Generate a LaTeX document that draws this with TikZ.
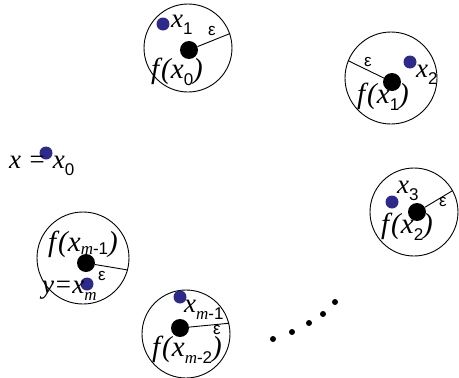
\documentclass[tikz,border=0pt]{standalone}
\usepackage{fontspec}
\setmainfont{Liberation Serif}
\newfontfamily\serf{Liberation Serif}
\newfontfamily\subf{Liberation Sans}
\definecolor{dotblue}{RGB}{46,42,140}
\newcommand\lowsub[1]{\raisebox{-7pt}{\fontsize{17}{17}\selectfont #1}}
\newcommand\snum[1]{{\subf\upshape #1}}
\newcommand\fk{f\kern2pt}
\begin{document}
\begin{tikzpicture}[x=1pt,y=-1pt,
 ring/.style={circle, draw, line width=0.9pt, inner sep=0},
 bdot/.style={circle, fill=black, inner sep=0, minimum size=18pt},
 udot/.style={circle, fill=dotblue, inner sep=0, minimum size=13pt},
 edot/.style={circle, fill=black, inner sep=0, minimum size=6pt},
 rad/.style={line width=0.9pt},
 flab/.style={inner sep=0, anchor=base west, font=\serf\fontsize{29}{29}\selectfont\itshape},
 xlab/.style={inner sep=0, anchor=base west, font=\serf\fontsize{27}{27}\selectfont\itshape},
 eps/.style={inner sep=0, font=\subf\fontsize{17}{17}\selectfont}]
\useasboundingbox (0,0) rectangle (459,378);

% circle 1
\node[ring, minimum size=88pt] (c1) at (188,48) {};
\node[bdot] (d1) at (189,50) {};
\node[udot] (u1) at (163,24) {};
\draw[rad] (d1) -- (c1.19);
\node[eps] (e1) at (212,31) {ε};
\node[xlab] (t1) at (171,27) {x\lowsub{\snum{1}}};
\node[flab] (f1) at (151,78) {\fk(x\lowsub{\snum{0}})};

% circle 2
\node[ring, minimum size=92pt] (c2) at (391,78) {};
\node[bdot] (d2) at (392,82) {};
\node[udot] (u2) at (410,62) {};
\draw[rad] (d2) -- (c2.158);
\node[eps] (e2) at (368,62) {ε};
\node[xlab] (t2) at (416,77) {x\lowsub{\snum{2}}};
\node[flab] (f2) at (357,103) {\fk(x\lowsub{\snum{1}})};

% x = x0
\node[udot] (u0) at (46,153) {};
\node[xlab] (t0) at (9,168) {x = x\lowsub{\snum{0}}};

% circle 3
\node[ring, minimum size=88pt] (c3) at (414,212) {};
\node[bdot] (d3) at (417,212) {};
\node[udot] (u3) at (392,202) {};
\draw[rad] (d3) -- (c3.29);
\node[eps] (e3) at (443,202) {ε};
\node[xlab] (t3) at (397,193) {x\lowsub{\snum{3}}};
\node[flab] (f3) at (381,233) {\fk(x\lowsub{\snum{2}})};

% circle 4
\node[ring, minimum size=92pt] (c4) at (83,258) {};
\node[bdot] (d4) at (86,263) {};
\node[udot] (u4) at (87,284) {};
\draw[rad] (d4) -- (c4.-15);
\node[eps] (e4) at (102,276) {ε};
\node[flab] (f4) at (48,251) {\fk(x\raisebox{-3pt}{\fontsize{17}{17}\selectfont m\snum{-1}})};
\node[xlab] (t4) at (42,293) {y=x\lowsub{m}};

% circle 5
\node[ring, minimum size=88pt] (c5) at (186,334) {};
\node[bdot] (d5) at (180,328) {};
\node[udot] (u5) at (180,297) {};
\draw[rad] (d5) -- (c5.14);
\node[eps] (e5) at (217,330) {ε};
\node[xlab] (t5) at (184,312) {x\lowsub{m\snum{-1}}};
\node[flab] (f5) at (152,356) {\fk(x\lowsub{m\snum{-2}})};

% ellipsis
\node[edot] (p1) at (273,339) {};
\node[edot] (p2) at (292,332) {};
\node[edot] (p3) at (309,323) {};
\node[edot] (p4) at (323,314) {};
\node[edot] (p5) at (335,302) {};
\end{tikzpicture}
\end{document}
